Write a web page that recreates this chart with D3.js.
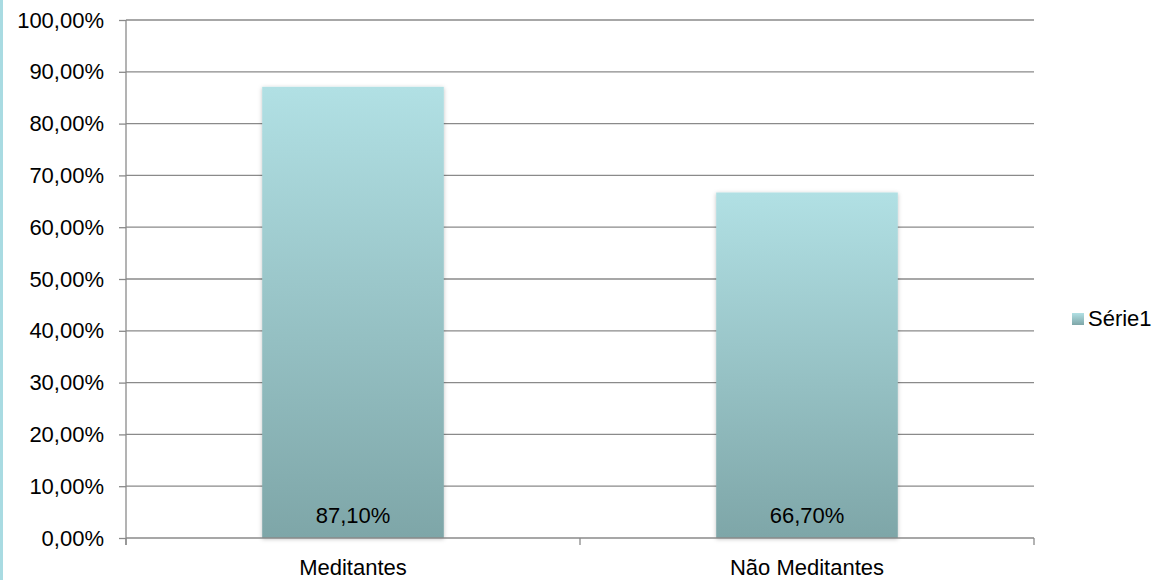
<!DOCTYPE html>
<html>
<head>
<meta charset="utf-8">
<script src="https://cdn.jsdelivr.net/npm/d3@7"></script>
<style>
  html, body { margin: 0; padding: 0; background: #fff; }
  svg { display: block; font-family: "Liberation Sans", Arial, sans-serif; }
</style>
</head>
<body>
<svg id="chart" width="1159" height="580"></svg>
<script>
const categories = ["Meditantes", "Não Meditantes"];
const values = [0.871, 0.667];
const valueLabels = ["87,10%", "66,70%"];
const yTicks = [0, 0.1, 0.2, 0.3, 0.4, 0.5, 0.6, 0.7, 0.8, 0.9, 1.0];
const seriesName = "Série1";

const svg = d3.select("#chart");
const W = 1159, H = 580;
const plot = { left: 126, right: 1034, top: 20, bottom: 538 };
const FS = "22px";

// thin coloured frame on the left edge
svg.append("rect").attr("x", 0).attr("y", 0).attr("width", 3).attr("height", H).attr("fill", "#a9dbe2");

const x = d3.scaleBand().domain(categories).range([plot.left, plot.right]).paddingInner(0.6).paddingOuter(0.3);
const y = d3.scaleLinear().domain([0, 1]).range([plot.bottom, plot.top]);

const fmt = v => (v * 100).toFixed(2).replace(".", ",") + "%";

const defs = svg.append("defs");
const grad = defs.append("linearGradient").attr("id", "barGrad")
  .attr("x1", 0).attr("y1", 0).attr("x2", 0).attr("y2", 1);
grad.append("stop").attr("offset", "0%").attr("stop-color", "#b1e0e4");
grad.append("stop").attr("offset", "100%").attr("stop-color", "#7ea6a8");
const shadow = defs.append("filter").attr("id", "shadow").attr("x", "-10%").attr("y", "-10%").attr("width", "120%").attr("height", "120%");
shadow.append("feDropShadow").attr("dx", 0).attr("dy", 1).attr("stdDeviation", 2).attr("flood-color", "#000").attr("flood-opacity", 0.25);

// horizontal gridlines
svg.append("g").selectAll("line").data(yTicks.slice(1)).join("line")
  .attr("x1", plot.left).attr("x2", plot.right)
  .attr("y1", d => y(d)).attr("y2", d => y(d))
  .attr("stroke", "#8a8a8a").attr("stroke-width", 1.3);

// y axis
const yAxis = d3.axisLeft(y).tickValues(yTicks).tickFormat(fmt).tickSize(7).tickPadding(15);
const gy = svg.append("g").attr("transform", `translate(${plot.left},0)`).call(yAxis);
gy.select(".domain").attr("stroke", "#8a8a8a").attr("stroke-width", 1.3).attr("d", `M0,${plot.top}V${plot.bottom + 7}`);
gy.selectAll(".tick line").attr("stroke", "#8a8a8a").attr("stroke-width", 1.3);
gy.selectAll(".tick text").attr("fill", "#000").style("font-size", FS);

// bars
svg.append("g").selectAll("rect").data(values).join("rect")
  .attr("x", (d, i) => x(categories[i]))
  .attr("width", x.bandwidth())
  .attr("y", d => y(d))
  .attr("height", d => y(0) - y(d))
  .attr("fill", "url(#barGrad)")
  .attr("filter", "url(#shadow)");

// x axis
const xAxis = d3.axisBottom(x).tickSize(0).tickPadding(21);
const gx = svg.append("g").attr("transform", `translate(0,${plot.bottom})`).call(xAxis);
gx.select(".domain").attr("stroke", "#8a8a8a").attr("stroke-width", 1.3)
  .attr("d", `M${plot.left},0H${plot.right}`);
gx.selectAll(".tick text").attr("fill", "#000").style("font-size", FS);
// category boundary ticks
const bounds = [plot.left, (plot.left + plot.right) / 2, plot.right];
svg.append("g").selectAll("line").data(bounds).join("line")
  .attr("x1", d => d).attr("x2", d => d)
  .attr("y1", plot.bottom).attr("y2", plot.bottom + 7)
  .attr("stroke", "#8a8a8a").attr("stroke-width", 1.3);

// value labels inside the bars
svg.append("g").selectAll("text").data(values).join("text")
  .attr("x", (d, i) => x(categories[i]) + x.bandwidth() / 2)
  .attr("y", y(0) - 15)
  .attr("text-anchor", "middle")
  .attr("fill", "#000")
  .style("font-size", FS)
  .text((d, i) => valueLabels[i]);

// legend
const lg = svg.append("g").attr("transform", "translate(1072,313)");
lg.append("rect").attr("width", 12).attr("height", 12).attr("fill", "url(#barGrad)");
lg.append("text").attr("x", 16).attr("y", 13).style("font-size", FS).attr("fill", "#000").text(seriesName);
</script>
</body>
</html>
